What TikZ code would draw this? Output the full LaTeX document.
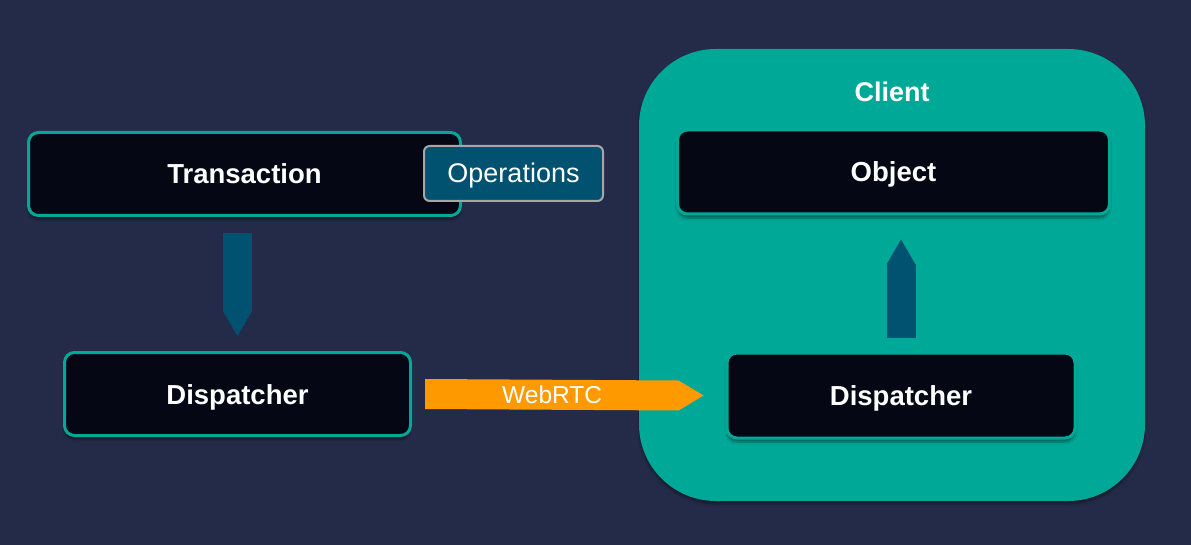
\documentclass[tikz,border=0pt]{standalone}
\usepackage{fontspec}
\setmainfont{Liberation Sans}
\usetikzlibrary{arrows.meta, positioning, shadows.blur, calc, backgrounds}
\definecolor{bgNavy}{RGB}{35, 43, 72}
\definecolor{clientTeal}{RGB}{0, 168, 152}
\definecolor{boxBlack}{RGB}{5, 8, 20}
\definecolor{flowBlue}{RGB}{0, 82, 112}
\definecolor{rtcOrange}{RGB}{255, 153, 0}
\tikzset{
    % Dark Block Style
    darkbox/.style={
        rectangle,
        rounded corners=3.5mm,
        minimum width=432pt,
        minimum height=83pt,
        fill=boxBlack,
        draw=clientTeal,
        line width=3pt,
        text=white,
        text height=20pt, text depth=0pt,
        font=\fontsize{27.5}{30}\selectfont\bfseries,
        blur shadow={shadow blur steps=6, shadow xshift=0pt, shadow yshift=-4pt, shadow opacity=40}
    },
    % Tag & Container Styles
    tagbox/.style={
        rectangle, rounded corners=2mm, minimum width=179pt, minimum height=55pt,
        fill=flowBlue, draw=gray!70, line width=2pt, text=white,
        text height=19pt, text depth=0pt,
        font=\fontsize{27}{30}\selectfont
    },
    container/.style={
        rectangle, rounded corners=27mm, minimum width=506pt, minimum height=452pt,
        fill=clientTeal,
        blur shadow={shadow blur steps=6, shadow xshift=0pt, shadow yshift=-3pt, shadow opacity=35}
    },
    % Arrow Styles
    flow/.style={draw=flowBlue, line width=29pt, -{Triangle[width=29pt, length=25pt, line width=0pt]}},
    rtc/.style={fill=rtcOrange},
    rtcLabel/.style={text=white, text height=17.5pt, text depth=0pt, font=\fontsize{24.5}{28}\selectfont}
}
\begin{document}
\begin{tikzpicture}[x=1pt, y=-1pt]

    % --- Background ---
    \fill[bgNavy] (0,0) rectangle (1191,545);
    \useasboundingbox (0,0) rectangle (1191,545);

    % --- CLIENT CONTAINER ---
    \node (client) [container] at (892,275) {};
    \node (clientTitle) [text=white, font=\fontsize{27}{30}\selectfont\bfseries] at (892,92) {Client};

    % --- LEFT SIDE (Sender) ---
    \node (trans) [darkbox] at (244.5,174) {Transaction};
    \node (ops) [tagbox] at (513.5,173.5) {Operations};
    \node (dispL) [darkbox, minimum width=346pt] at (237.5,394) {Dispatcher};

    % --- RIGHT SIDE (Client) ---
    \node (obj) [darkbox, minimum height=84pt] at (893.5,172) {Object};
    \node (dispR) [darkbox, minimum width=348pt, minimum height=85pt] at (901,395.5) {Dispatcher};

    % --- Arrows ---
    \draw [flow, shorten <=16pt, shorten >=15pt] (dispL.north |- trans.south) -- (dispL.north);
    \draw [flow, shorten <=14pt, shorten >=24pt] (dispR.north) -- (dispR.north |- obj.south);
    % WebRTC link (flat block arrow)
    \fill [rtc] ($(dispL.east)+(13,-15)$) -- ($(dispR.west)+(-47,-15)$) -- ($(dispR.west)+(-22,0)$)
        -- ($(dispR.west)+(-47,15)$) -- ($(dispL.east)+(13,15)$) -- cycle;
    \node (rtcText) [rtcLabel] at ($(dispL.east)!0.447!(dispR.west)$) {WebRTC};

\end{tikzpicture}
\end{document}
